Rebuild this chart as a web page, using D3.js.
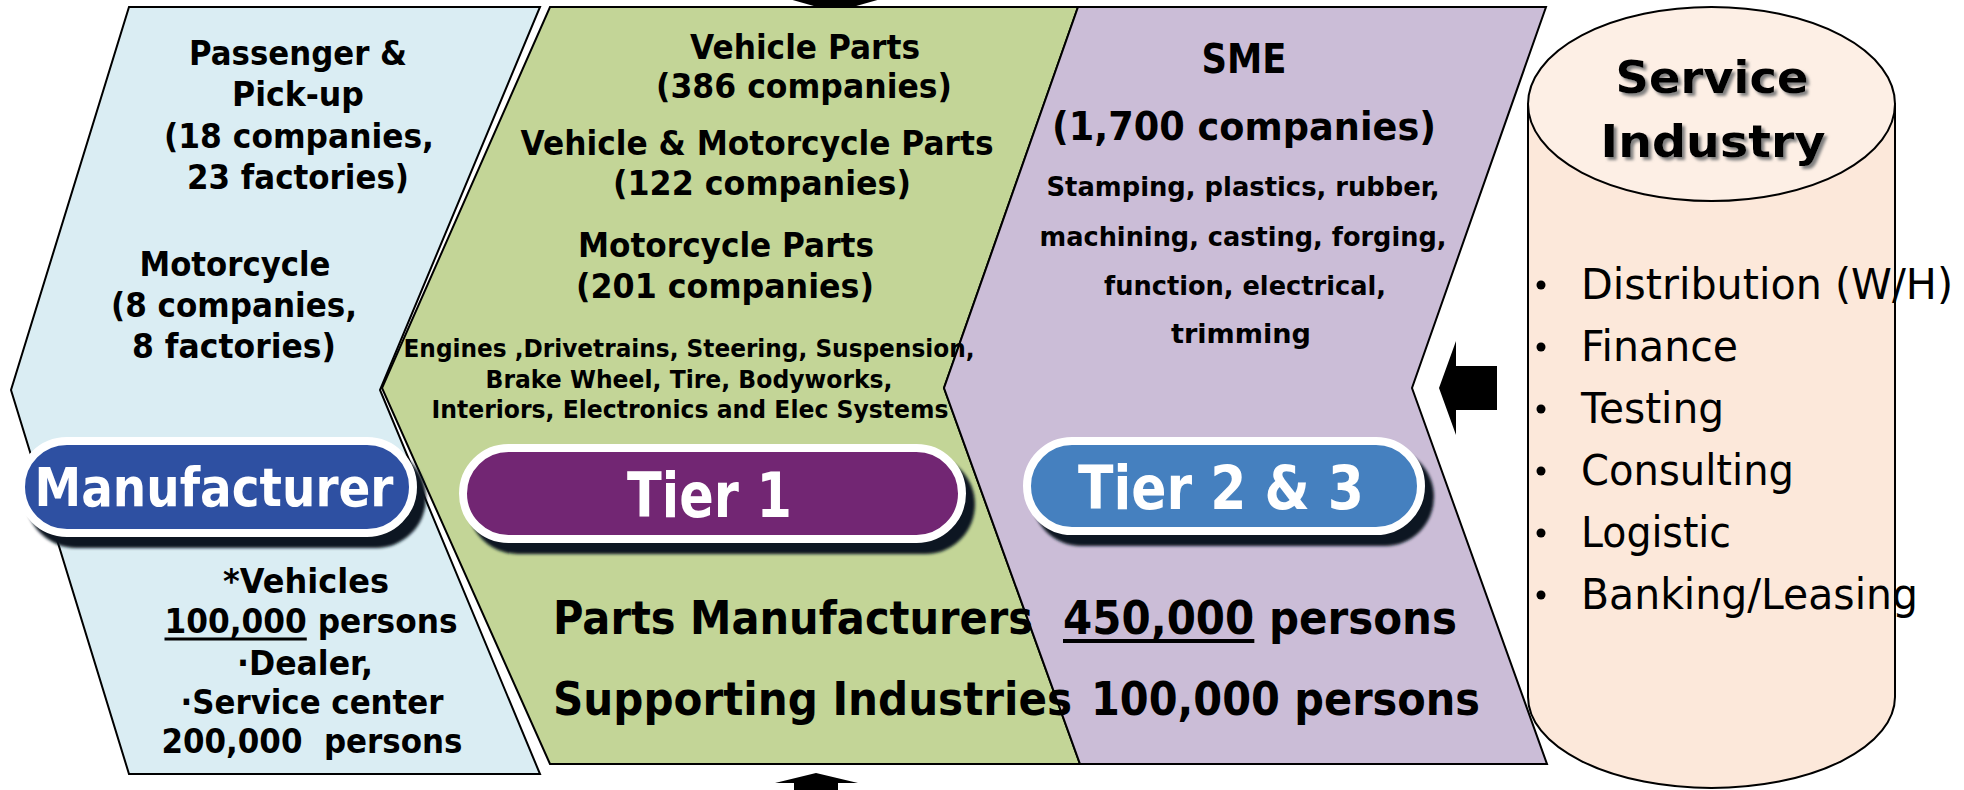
<!DOCTYPE html>
<html lang="en">
<meta charset="UTF-8">
<title>Automotive industry structure</title>
<style>
body {margin:0; background:#fff}
svg text {font-family: "DejaVu Sans", Verdana, sans-serif; white-space: pre}
</style>
<script src="https://d3js.org/d3.v7.min.js"></script>
<body>
<div id="diagram"></div>
<script>

// ---- content of the diagram
var stageNames = ["Manufacturer", "Tier 1", "Tier 2 & 3"];
var carMakers = ["Passenger &", "Pick-up", "(18 companies,", "23 factories)"];
var motorcycleMakers = ["Motorcycle", "(8 companies,", "8 factories)"];
var makerJobs = ["*Vehicles", "100,000 persons", "\u00b7Dealer,", "\u00b7Service center", "200,000  persons"];
var tier1Groups = ["Vehicle Parts", "(386 companies)", "Vehicle & Motorcycle Parts", "(122 companies)",
                   "Motorcycle Parts", "(201 companies)"];
var tier1Products = ["Engines ,Drivetrains, Steering, Suspension,", "Brake Wheel, Tire, Bodyworks,",
                     "Interiors, Electronics and Elec Systems"];
var smeTitle = ["SME", "(1,700 companies)"];
var smeProcesses = ["Stamping, plastics, rubber,", "machining, casting, forging,",
                    "function, electrical,", "trimming"];
var workforceLabels = ["Parts Manufacturers", "Supporting Industries"];
var workforcePersons = ["450,000", "100,000"];
var serviceTitle = ["Service", "Industry"];
var serviceItems = ["Distribution (W/H)", "Finance", "Testing", "Consulting", "Logistic", "Banking/Leasing"];

// ---- drawing
var W = 1964, H = 790;
var svg = d3.select("#diagram").append("svg")
    .attr("width", W).attr("height", H);

var defs = svg.append("defs");
defs.append("filter").attr("id", "pillShadow")
  .append("feGaussianBlur").attr("stdDeviation", 1.5);
defs.append("filter").attr("id", "titleShadow")
  .append("feDropShadow").attr("dx", 3).attr("dy", 3).attr("stdDeviation", 1.5)
    .attr("flood-color", "#808080");

function measure(str, size, weight) {
  var t = svg.append("text").style("font-size", size + "px").style("font-weight", weight || "bold").text(str);
  var w = t.node().getComputedTextLength();
  t.remove();
  return w;
}

// text line squeezed to a target width (the original font is narrower than DejaVu)
function addText(g, str, x, y, size, width, opt) {
  opt = opt || {};
  var t = g.append("text")
      .attr("x", x).attr("y", y)
      .attr("text-anchor", opt.anchor || "middle")
      .style("font-size", size + "px")
      .style("font-weight", opt.weight || "bold")
      .attr("fill", opt.fill || "#000")
      .text(str);
  if (width) t.attr("textLength", width).attr("lengthAdjust", "spacingAndGlyphs");
  if (opt.filter) t.attr("filter", opt.filter);
  // underline the leading number
  if (opt.underline) {
    var left = (opt.anchor === "start") ? x : x - width / 2;
    var part = width * measure(opt.underline, size) / measure(str, size);
    g.append("line")
      .attr("x1", left).attr("x2", left + part)
      .attr("y1", y + opt.ulOffset).attr("y2", y + opt.ulOffset)
      .attr("stroke", "#000").attr("stroke-width", opt.ulWidth || 3);
  }
  return t;
}

var line = d3.line();

// arrows (behind the panels)
var arrows = svg.append("g").attr("fill", "#000");
arrows.append("path").attr("d", line([[782, -3], [888, -3], [835, 12]]) + "Z");
arrows.append("path").attr("d", line([[816, 773], [858, 783], [838, 783], [838, 792], [794, 792], [794, 783], [775, 783]]) + "Z");
arrows.append("path").attr("d", line([[1439, 388], [1456, 341], [1456, 366], [1497, 366], [1497, 410], [1456, 410], [1456, 435]]) + "Z");

// chevron panels
var panels = [
  {fill: "#daedf3", pts: [[129, 7], [540, 7], [380, 390], [540, 774], [129, 774], [11, 390]]},
  {fill: "#c3d597", pts: [[550, 7], [1078, 7], [944, 388], [1080, 764], [550, 764], [382, 388]]},
  {fill: "#cbbdd7", pts: [[1078, 7], [1546, 7], [1412, 388], [1547, 764], [1080, 764], [944, 388]]}
];
svg.append("g").selectAll("path")
  .data(panels)
  .enter().append("path")
    .attr("d", function(d) { return line(d.pts) + "Z"; })
    .attr("fill", function(d) { return d.fill; })
    .attr("stroke", "#000")
    .attr("stroke-width", 2)
    .attr("stroke-linejoin", "miter");

// service industry cylinder
var cyl = {x0: 1528, x1: 1895, top: 104, bottom: 697, ryTop: 97, ryBot: 91};
var rx = (cyl.x1 - cyl.x0) / 2;
svg.append("path")
  .attr("d", "M" + cyl.x0 + "," + cyl.top + "L" + cyl.x0 + "," + cyl.bottom +
             "A" + rx + "," + cyl.ryBot + " 0 0 0 " + cyl.x1 + "," + cyl.bottom +
             "L" + cyl.x1 + "," + cyl.top + "Z")
  .attr("fill", "#fce8da").attr("stroke", "#000").attr("stroke-width", 2);
svg.append("ellipse")
  .attr("cx", cyl.x0 + rx).attr("cy", cyl.top).attr("rx", rx).attr("ry", cyl.ryTop)
  .attr("fill", "#fdefe5").attr("stroke", "#000").attr("stroke-width", 2);

// stage pills
var pills = [
  {x: 17, y: 437, w: 400, h: 100, fill: "#2e50a2", ty: 506, tw: 359, size: 54},
  {x: 459, y: 444, w: 507, h: 99, fill: "#722673", ty: 517, tw: 165, size: 62},
  {x: 1023, y: 437, w: 402, h: 98, fill: "#4580bf", ty: 509, tw: 286, size: 60}
];
var pg = svg.append("g").selectAll("g")
  .data(pills)
  .enter().append("g");
pg.append("rect")
  .attr("x", function(d) { return d.x + 9; }).attr("y", function(d) { return d.y + 11; })
  .attr("width", function(d) { return d.w; }).attr("height", function(d) { return d.h; })
  .attr("rx", function(d) { return d.h / 2; })
  .attr("fill", "#0b1622").attr("filter", "url(#pillShadow)");
pg.append("rect")
  .attr("x", function(d) { return d.x + 4; }).attr("y", function(d) { return d.y + 4; })
  .attr("width", function(d) { return d.w - 8; }).attr("height", function(d) { return d.h - 8; })
  .attr("rx", function(d) { return (d.h - 8) / 2; })
  .attr("fill", function(d) { return d.fill; })
  .attr("stroke", "#fff").attr("stroke-width", 8);
pg.each(function(d, i) {
  addText(d3.select(this), stageNames[i], d.x + d.w / 2 - 3, d.ty, d.size, d.tw, {fill: "#fff"});
});

var txt = svg.append("g");

// manufacturer panel
var carY = d3.scaleLinear().domain([0, 3]).range([65, 189]);
var carX = [298, 298, 299, 298], carW = [218, 132, 270, 222];
carMakers.forEach(function(s, i) { addText(txt, s, carX[i], carY(i), 33, carW[i]); });

var motoY = d3.scaleLinear().domain([0, 2]).range([276, 358]);
var motoX = [235, 234, 234], motoW = [191, 246, 204];
motorcycleMakers.forEach(function(s, i) { addText(txt, s, motoX[i], motoY(i), 33, motoW[i]); });

var jobsY = [593, 633, 675, 714, 753], jobsX = [306, 311, 305, 312, 312], jobsW = [166, 293, 136, 263, 301];
makerJobs.forEach(function(s, i) {
  addText(txt, s, jobsX[i], jobsY[i], 34, jobsW[i],
    i === 1 ? {underline: s.split(" ")[0], ulOffset: 6, ulWidth: 3} : {});
});

// tier 1 panel
var grpY = [59, 98, 155, 195, 257, 298], grpX = [805, 804, 757, 762, 726, 725],
    grpW = [230, 296, 473, 298, 296, 298];
tier1Groups.forEach(function(s, i) { addText(txt, s, grpX[i], grpY[i], 34, grpW[i]); });

var prodY = d3.scaleLinear().domain([0, 2]).range([357, 418]);
var prodX = [689, 689, 690], prodW = [571, 407, 517];
tier1Products.forEach(function(s, i) { addText(txt, s, prodX[i], prodY(i), 24, prodW[i]); });

// tier 2 & 3 panel
addText(txt, smeTitle[0], 1244, 73, 41, 85);
addText(txt, smeTitle[1], 1244, 140, 39, 384);
var procY = [196, 246, 295, 343], procX = [1243, 1243, 1245, 1241], procW = [393, 407, 282, 140];
smeProcesses.forEach(function(s, i) { addText(txt, s, procX[i], procY[i], 26, procW[i]); });

// workforce lines across tiers
var wfY = [634, 715], labW = [480, 519], perX = [1063, 1091], perW = [394, 389];
workforceLabels.forEach(function(s, i) {
  addText(txt, s, 553, wfY[i], 47, labW[i], {anchor: "start"});
  var p = workforcePersons[i] + " persons";
  addText(txt, p, perX[i], wfY[i], 47, perW[i],
    i === 0 ? {anchor: "start", underline: workforcePersons[i], ulOffset: 7, ulWidth: 4} : {anchor: "start"});
});

// service industry
var svcX = [1712, 1713], svcY = [93, 157], svcW = [193, 225];
serviceTitle.forEach(function(s, i) {
  addText(txt, s, svcX[i], svcY[i], 45, svcW[i], {filter: "url(#titleShadow)"});
});
var itemY = d3.scaleLinear().domain([0, serviceItems.length - 1]).range([299, 609]);
var itemW = [372, 157, 143, 213, 150, 337];
serviceItems.forEach(function(s, i) {
  txt.append("circle").attr("cx", 1541).attr("cy", itemY(i) - 14).attr("r", 4.5).attr("fill", "#000");
  addText(txt, s, 1581, itemY(i), 43, itemW[i], {anchor: "start", weight: "normal"});
});

</script>
</body>
</html>
